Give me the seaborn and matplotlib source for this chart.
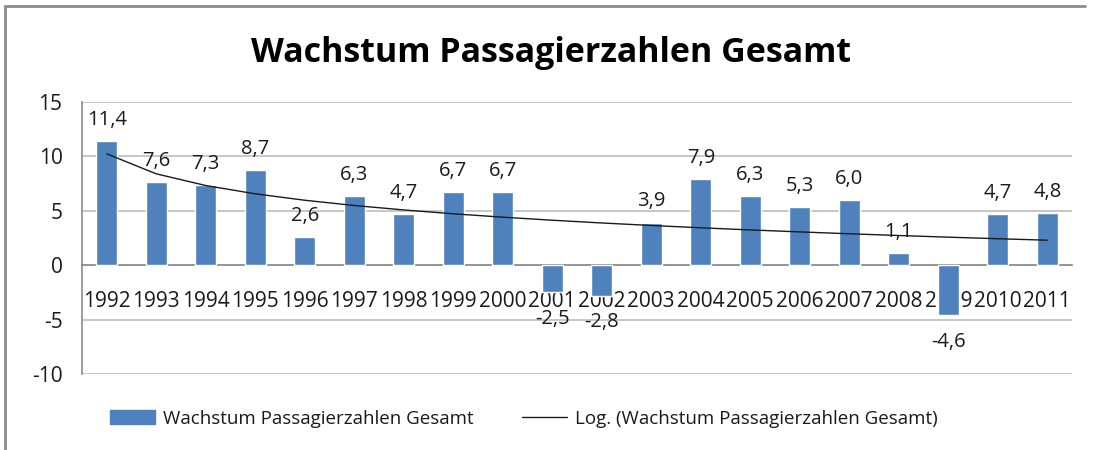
import numpy as np
import pandas as pd
import matplotlib
matplotlib.use("Agg")
import matplotlib.pyplot as plt
from matplotlib.patches import Patch
from matplotlib.lines import Line2D
import seaborn as sns

# data
years = [str(y) for y in range(1992, 2012)]
growth = [11.4, 7.6, 7.3, 8.7, 2.6, 6.3, 4.7, 6.7, 6.7, -2.5,
          -2.8, 3.9, 7.9, 6.3, 5.3, 6.0, 1.1, -4.6, 4.7, 4.8]
series_name = "Wachstum Passagierzahlen Gesamt"
trend_name = "Log. (Wachstum Passagierzahlen Gesamt)"

bar_color = "#4F81BD"
grid_color = "#BEBEBE"
axis_color = "#8C8C8C"

sns.set_theme(style="white")
plt.rcParams["font.family"] = ["Open Sans", "DejaVu Sans"]
plt.rcParams["axes.unicode_minus"] = False

df = pd.DataFrame({"Jahr": years, "Wachstum": growth})

# logarithmic trend line like Excel (fit y = a*ln(x) + b on x = 1..n)
xs = np.arange(1, len(growth) + 1)
a, b = np.polyfit(np.log(xs), growth, 1)
trend = a * np.log(xs) + b

fig = plt.figure(figsize=(10.94, 4.5), dpi=100)
ax = fig.add_axes([82 / 1094, 1 - 374 / 450, (1072 - 82) / 1094, (374 - 101.6) / 450])

sns.barplot(data=df, x="Jahr", y="Wachstum", color=bar_color, width=0.43,
            saturation=1, ax=ax, zorder=3)
ax.plot(np.arange(len(growth)), trend, color="#1a1a1a", lw=1.0, zorder=4)

# value labels, above positive bars and below negative ones
for i, v in enumerate(growth):
    txt = f"{v:.1f}".replace(".", ",")
    if v >= 0:
        ax.annotate(txt, (i, v), xytext=(0, 8), textcoords="offset points",
                    ha="center", va="bottom", fontsize=14.5, color="#1a1a1a")
    else:
        ax.annotate(txt, (i, v), xytext=(0, -12), textcoords="offset points",
                    ha="center", va="top", fontsize=14.5, color="#1a1a1a")

ax.set_ylim(-10, 15)
ax.set_xlim(-0.5, len(growth) - 0.5)
ax.set_yticks(range(-10, 16, 5))
ax.yaxis.grid(True, color=grid_color, lw=1.2, zorder=0)
ax.set_axisbelow(True)
ax.set_xlabel("")
ax.set_ylabel("")

for s in ["top", "right"]:
    ax.spines[s].set_visible(False)
ax.spines["bottom"].set_position(("data", 0))
ax.spines["bottom"].set_color(axis_color)
ax.spines["left"].set_color(axis_color)
ax.spines["bottom"].set_linewidth(1.2)
ax.spines["left"].set_linewidth(1.2)

ax.set_xticks(np.arange(-0.5, len(growth), 1.0), minor=True)
ax.tick_params(axis="x", which="major", length=0, pad=18.5, labelsize=15,
               labelcolor="#1a1a1a")
ax.tick_params(axis="x", which="minor", length=6, color=axis_color, width=1.2,
               direction="out")
ax.tick_params(axis="y", length=5, color=axis_color, width=1.2, direction="out",
               labelsize=15, labelcolor="#1a1a1a", pad=9)

fig.text(0.504, 0.883, series_name, ha="center", va="center", fontsize=24.5,
         fontweight="bold", color="#000000")

handles = [Patch(facecolor=bar_color, edgecolor=bar_color),
           Line2D([0], [0], color="#1a1a1a", lw=1.0)]
fig.legend(handles, [series_name, trend_name], loc="center",
           bbox_to_anchor=(0.479, 0.07), ncol=2, frameon=False, fontsize=13.5,
           handlelength=2.4, handleheight=0.7, handletextpad=0.4,
           columnspacing=2.6, labelcolor="#1a1a1a")

# chart frame (left and top edge visible in the reference)
fig.add_artist(Line2D([5 / 1094, 1085 / 1094], [1 - 6 / 450, 1 - 6 / 450],
                      transform=fig.transFigure, color=axis_color, lw=2))
fig.add_artist(Line2D([5 / 1094, 5 / 1094], [0, 1 - 6 / 450],
                      transform=fig.transFigure, color=axis_color, lw=2))

fig.savefig("out.png", dpi=100)
